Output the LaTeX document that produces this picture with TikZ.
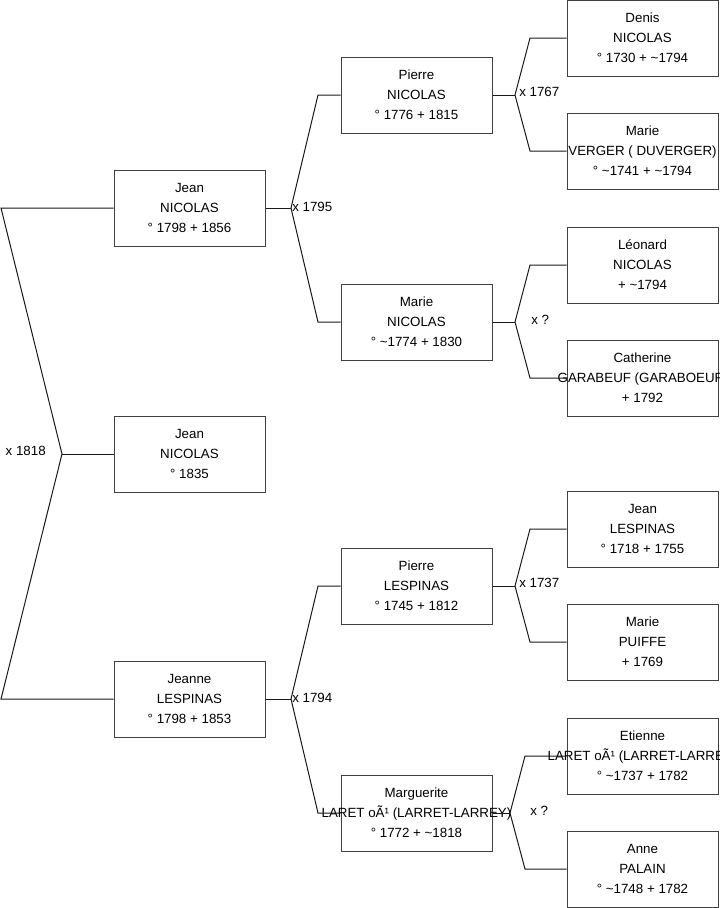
\documentclass[tikz,border=0pt]{standalone}
\usepackage{fontspec}
\setmainfont{Liberation Sans}
\usepackage{tikz}
\definecolor{boxline}{gray}{0.25}
\definecolor{linkline}{gray}{0.10}

% one card: first name, surname, dates (lines may run past the box)
\newcommand{\pers}[3]{\makebox[0pt]{#1}\\\makebox[0pt]{#2}\\\makebox[0pt]{#3}}
\newcommand{\tld}{\textasciitilde}

\begin{document}
\begin{tikzpicture}[x=0.75pt, y=-0.75pt,
	person/.style={draw=boxline, fill=white, line width=0.75pt,
		minimum width=113.25pt, minimum height=57pt, inner sep=0pt,
		align=center, font=\fontsize{10}{15}\selectfont},
	wed/.style={anchor=west, inner sep=0pt, font=\fontsize{10}{12}\selectfont},
	link/.style={draw=linkline, line width=0.75pt}]
	\clip (0,0) rectangle (719,908);

	% generation 0
	\node[person] (root) at (189.5,454) {\pers{Jean}{NICOLAS}{° 1835}};

	% parents
	\node[person] (jean)   at (189.5,208) {\pers{Jean}{NICOLAS}{° 1798 + 1856}};
	\node[person] (jeanne) at (189.5,699) {\pers{Jeanne}{LESPINAS}{° 1798 + 1853}};

	% grandparents
	\node[person] (pierreN)    at (416.5,95)  {\pers{Pierre}{NICOLAS}{° 1776 + 1815}};
	\node[person] (marieN)     at (416.5,322) {\pers{Marie}{NICOLAS}{° \tld1774 + 1830}};
	\node[person] (pierreL)    at (416.5,586) {\pers{Pierre}{LESPINAS}{° 1745 + 1812}};
	\node[person] (marguerite) at (416.5,813) {\pers{Marguerite}{LARET oÃ¹ (LARRET-LARREY)}{° 1772 + \tld1818}};

	% great-grandparents
	\node[person] (denis)     at (642.5,38)  {\pers{Denis}{NICOLAS}{° 1730 + \tld1794}};
	\node[person] (marieV)    at (642.5,151) {\pers{Marie}{VERGER ( DUVERGER)}{° \tld1741 + \tld1794}};
	\node[person] (leonard)   at (642.5,265) {\pers{Léonard}{NICOLAS}{+ \tld1794}};
	\node[person] (catherine) at (642.5,378) {\pers{Catherine}{GARABEUF (GARABOEUF)}{+ 1792}};
	\node[person] (jeanL)     at (642.5,529) {\pers{Jean}{LESPINAS}{° 1718 + 1755}};
	\node[person] (marieP)    at (642.5,642) {\pers{Marie}{PUIFFE}{+ 1769}};
	\node[person] (etienne)   at (642.5,756) {\pers{Etienne}{LARET oÃ¹ (LARRET-LARREY)}{° \tld1737 + 1782}};
	\node[person] (anne)      at (642.5,869) {\pers{Anne}{PALAIN}{° \tld1748 + 1782}};

	% fork points
	\coordinate (j0) at (62,454);  \coordinate (j0a) at (1,208);   \coordinate (j0b) at (1,699);
	\coordinate (j1) at (291,208); \coordinate (j1a) at (318,95);  \coordinate (j1b) at (318,322);
	\coordinate (j2) at (515,95);  \coordinate (j2a) at (530,38);  \coordinate (j2b) at (530,151);
	\coordinate (j3) at (515,322); \coordinate (j3a) at (530,265); \coordinate (j3b) at (530,378);
	\coordinate (j4) at (291,699); \coordinate (j4a) at (318,586); \coordinate (j4b) at (318,813);
	\coordinate (j5) at (515,586); \coordinate (j5a) at (530,529); \coordinate (j5b) at (530,642);
	\coordinate (j6) at (510,813); \coordinate (j6a) at (525,756); \coordinate (j6b) at (525,869);

	% forks
	\draw[link] (root.west) -- (j0);
	\draw[link] (jean.west) -- (j0a) -- (j0) -- (j0b) -- (jeanne.west);
	\draw[link] (jean.east) -- (j1);
	\draw[link] (pierreN.west) -- (j1a) -- (j1) -- (j1b) -- (marieN.west);
	\draw[link] (pierreN.east) -- (j2);
	\draw[link] (denis.west) -- (j2a) -- (j2) -- (j2b) -- (marieV.west);
	\draw[link] (marieN.east) -- (j3);
	\draw[link] (leonard.west) -- (j3a) -- (j3) -- (j3b) -- (catherine.west);
	\draw[link] (jeanne.east) -- (j4);
	\draw[link] (pierreL.west) -- (j4a) -- (j4) -- (j4b) -- (marguerite.west);
	\draw[link] (pierreL.east) -- (j5);
	\draw[link] (jeanL.west) -- (j5a) -- (j5) -- (j5b) -- (marieP.west);
	\draw[link] (marguerite.east) -- (j6);
	\draw[link] (etienne.west) -- (j6a) -- (j6) -- (j6b) -- (anne.west);

	% marriages
	\node[wed, anchor=east] (m0) at (46,451) {x 1818};
	\node[wed] (m1) at (292,207) {x 1795};
	\node[wed] (m2) at (519,92)  {x 1767};
	\node[wed] (m3) at (531,320) {x ?};
	\node[wed] (m4) at (292,698) {x 1794};
	\node[wed] (m5) at (519,583) {x 1737};
	\node[wed] (m6) at (530,811) {x ?};
\end{tikzpicture}
\end{document}
